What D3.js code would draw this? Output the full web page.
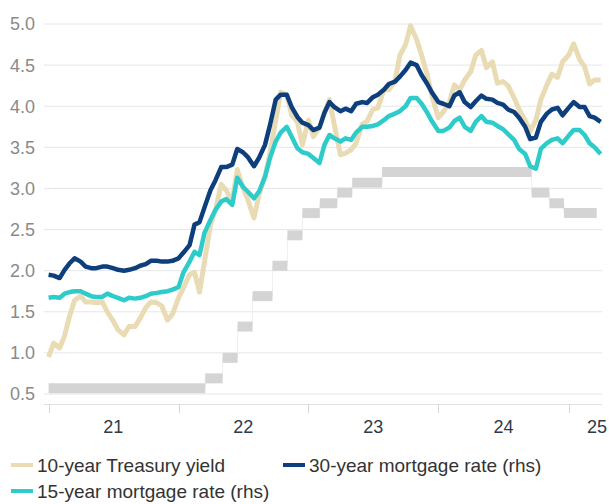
<!DOCTYPE html>
<html>
<head>
<meta charset="utf-8">
<script src="https://cdn.jsdelivr.net/npm/d3@7"></script>
<style>
  body { margin: 0; background: #fff; }
  svg { display: block; font-family: "Liberation Sans", Arial, sans-serif; }
</style>
</head>
<body>
<svg id="chart" width="609" height="504"></svg>
<script>
'use strict';

// semi-monthly observation dates
const dates = [
  "2021-01-01","2021-01-15","2021-02-01","2021-02-15","2021-03-01","2021-03-15","2021-04-01","2021-04-15","2021-05-01","2021-05-15","2021-06-01","2021-06-15",
  "2021-07-01","2021-07-15","2021-08-01","2021-08-15","2021-09-01","2021-09-15","2021-10-01","2021-10-15","2021-11-01","2021-11-15","2021-12-01","2021-12-15",
  "2022-01-01","2022-01-15","2022-02-01","2022-02-15","2022-03-01","2022-03-15","2022-04-01","2022-04-15","2022-05-01","2022-05-15","2022-06-01","2022-06-15",
  "2022-07-01","2022-07-15","2022-08-01","2022-08-15","2022-09-01","2022-09-15","2022-10-01","2022-10-15","2022-11-01","2022-11-15","2022-12-01","2022-12-15",
  "2023-01-01","2023-01-15","2023-02-01","2023-02-15","2023-03-01","2023-03-15","2023-04-01","2023-04-15","2023-05-01","2023-05-15","2023-06-01","2023-06-15",
  "2023-07-01","2023-07-15","2023-08-01","2023-08-15","2023-09-01","2023-09-15","2023-10-01","2023-10-15","2023-11-01","2023-11-15","2023-12-01","2023-12-15",
  "2024-01-01","2024-01-15","2024-02-01","2024-02-15","2024-03-01","2024-03-15","2024-04-01","2024-04-15","2024-05-01","2024-05-15","2024-06-01","2024-06-15",
  "2024-07-01","2024-07-15","2024-08-01","2024-08-15","2024-09-01","2024-09-15","2024-10-01","2024-10-15","2024-11-01","2024-11-15","2024-12-01","2024-12-15",
  "2025-01-01","2025-01-15","2025-02-01","2025-02-15","2025-03-01","2025-03-15","2025-04-01"
];

const treasury10y = [
  0.95, 1.12, 1.06, 1.21, 1.45, 1.64, 1.69, 1.62, 1.62, 1.61, 1.62, 1.50,
  1.39, 1.28, 1.22, 1.32, 1.32, 1.42, 1.55, 1.62, 1.61, 1.57, 1.40, 1.47,
  1.67, 1.79, 1.95, 1.98, 1.74, 2.11, 2.56, 2.74, 3.05, 2.98, 2.84, 3.23,
  3.01, 2.86, 2.64, 2.92, 3.15, 3.43, 3.83, 4.17, 4.14, 3.89, 3.81, 3.53,
  3.83, 3.63, 3.74, 3.92, 4.08, 3.77, 3.41, 3.43, 3.47, 3.55, 3.78, 3.82,
  3.96, 3.98, 4.20, 4.20, 4.30, 4.62, 4.75, 4.98, 4.81, 4.62, 4.38, 4.11,
  3.86, 3.93, 4.05, 4.26, 4.20, 4.32, 4.42, 4.62, 4.68, 4.47, 4.54, 4.28,
  4.30, 4.25, 4.10, 3.96, 3.83, 3.70, 3.83, 4.08, 4.26, 4.39, 4.35, 4.54,
  4.62, 4.76, 4.57, 4.48, 4.27, 4.32, 4.32
];

const mortgage30y = [
  1.95, 1.94, 1.91, 2.01, 2.09, 2.15, 2.11, 2.05, 2.03, 2.03, 2.05, 2.05,
  2.03, 2.01, 2.00, 2.01, 2.03, 2.06, 2.08, 2.12, 2.12, 2.11, 2.11, 2.12,
  2.15, 2.22, 2.31, 2.56, 2.59, 2.77, 2.98, 3.10, 3.26, 3.26, 3.29, 3.48,
  3.44, 3.38, 3.27, 3.37, 3.53, 3.77, 4.08, 4.14, 4.14, 3.99, 3.87, 3.80,
  3.77, 3.71, 3.74, 3.92, 4.05, 3.99, 3.94, 3.97, 3.94, 4.03, 4.05, 4.04,
  4.11, 4.14, 4.20, 4.27, 4.30, 4.36, 4.44, 4.53, 4.50, 4.38, 4.27, 4.16,
  4.05, 4.03, 4.00, 4.13, 4.17, 4.05, 3.99, 4.06, 4.13, 4.09, 4.08, 4.04,
  4.02, 3.96, 3.93, 3.86, 3.75, 3.60, 3.62, 3.81, 3.91, 3.96, 3.98, 3.89,
  3.98, 4.05, 3.99, 3.99, 3.88, 3.86, 3.81
];

const mortgage15y = [
  1.67, 1.68, 1.67, 1.72, 1.74, 1.75, 1.75, 1.72, 1.69, 1.68, 1.68, 1.72,
  1.69, 1.67, 1.64, 1.67, 1.66, 1.67, 1.69, 1.72, 1.73, 1.74, 1.75, 1.77,
  1.80, 1.98, 2.11, 2.23, 2.19, 2.46, 2.62, 2.74, 2.84, 2.87, 2.80, 3.13,
  3.02, 2.96, 2.88, 2.96, 3.14, 3.37, 3.57, 3.68, 3.75, 3.63, 3.49, 3.44,
  3.42, 3.37, 3.31, 3.53, 3.65, 3.61, 3.57, 3.61, 3.59, 3.68, 3.75, 3.75,
  3.76, 3.78, 3.83, 3.88, 3.91, 3.94, 4.00, 4.10, 4.10, 4.03, 3.92, 3.81,
  3.70, 3.70, 3.74, 3.82, 3.86, 3.75, 3.70, 3.81, 3.88, 3.81, 3.80, 3.76,
  3.72, 3.66, 3.59, 3.48, 3.42, 3.27, 3.24, 3.48, 3.55, 3.59, 3.61, 3.55,
  3.64, 3.71, 3.71, 3.65, 3.55, 3.50, 3.42
];

// grey step series (policy rate, chart scale)
const stepDates = ["2021-01-01","2022-03-17","2022-05-05","2022-06-16","2022-07-28","2022-09-22","2022-11-03","2022-12-15",
  "2023-02-02","2023-03-23","2023-05-04","2023-07-27","2024-09-19","2024-11-08","2024-12-19"];
const stepValues = [0.57, 0.69, 0.94, 1.32, 1.69, 2.06, 2.43, 2.70, 2.82, 2.95, 3.07, 3.20, 2.95, 2.82, 2.70];
const stepEnd = "2025-03-21";

const yTicks = [0.5, 1.0, 1.5, 2.0, 2.5, 3.0, 3.5, 4.0, 4.5, 5.0];
const yearTicks = ["2021-01-01","2022-01-01","2023-01-01","2024-01-01","2025-01-01"];
const yearLabels = ["21","22","23","24","25"];
const yearLabelDates = ["2021-07-02","2022-07-02","2023-07-02","2024-07-02","2025-03-22"];

const seriesNames = ["10-year Treasury yield", "30-year mortgage rate (rhs)", "15-year mortgage rate (rhs)"];
const seriesColors = ["#e9dcb4", "#0c3f7b", "#2ecbcb"];

const parse = d3.timeParse("%Y-%m-%d");
const svg = d3.select("#chart");

const x = d3.scaleTime()
  .domain([parse("2021-01-01"), parse("2025-01-01")])
  .range([48.6, 568.6]);
const y = d3.scaleLinear().domain([0.5, 5.0]).range([394, 24]);

// gridlines + y labels
svg.append("g").selectAll("line").data(yTicks).join("line")
  .attr("x1", 44).attr("x2", 602)
  .attr("y1", d => y(d)).attr("y2", d => y(d))
  .attr("stroke", "#e6e6e6").attr("stroke-width", 1);

svg.append("g").selectAll("text").data(yTicks).join("text")
  .attr("x", 35).attr("y", d => y(d))
  .attr("dy", "0.36em")
  .attr("text-anchor", "end")
  .attr("font-size", 18)
  .attr("fill", "#8a8a8a")
  .text(d => d.toFixed(1));

// x axis
const xAxis = svg.append("g");
xAxis.append("line")
  .attr("x1", 44).attr("x2", 602).attr("y1", 404.5).attr("y2", 404.5)
  .attr("stroke", "#e0e0e0");
xAxis.selectAll(".tick").data(yearTicks).join("line")
  .attr("x1", d => Math.round(x(parse(d))) + 0.5).attr("x2", d => Math.round(x(parse(d))) + 0.5)
  .attr("y1", 404).attr("y2", 413)
  .attr("stroke", "#d6d6d6");
xAxis.selectAll("text").data(yearLabels).join("text")
  .attr("x", (d, i) => x(parse(yearLabelDates[i])))
  .attr("y", 427)
  .attr("dy", "0.36em")
  .attr("text-anchor", "middle")
  .attr("font-size", 18)
  .attr("fill", "#2f3a48")
  .text(d => d);

// step series
const steps = stepDates.map((d, i) => ({
  x0: parse(d),
  x1: parse(i + 1 < stepDates.length ? stepDates[i + 1] : stepEnd),
  v: stepValues[i],
  next: i + 1 < stepValues.length ? stepValues[i + 1] : null
}));
const stepG = svg.append("g");
stepG.selectAll(".conn").data(steps.filter(s => s.next !== null)).join("line")
  .attr("x1", s => x(s.x1)).attr("x2", s => x(s.x1))
  .attr("y1", s => y(s.v)).attr("y2", s => y(s.next))
  .attr("stroke", "#efefef").attr("stroke-width", 1);
stepG.selectAll(".bar").data(steps).join("line")
  .attr("x1", s => x(s.x0)).attr("x2", s => x(s.x1))
  .attr("y1", s => y(s.v)).attr("y2", s => y(s.v))
  .attr("stroke", "#d4d4d4").attr("stroke-width", 10);

// lines
const parsedDates = dates.map(parse);
const line = d3.line()
  .x((d, i) => x(parsedDates[i]))
  .y(d => y(d))
  .curve(d3.curveLinear);

[treasury10y, mortgage15y, mortgage30y].forEach((s, k) => {
  const color = [seriesColors[0], seriesColors[2], seriesColors[1]][k];
  svg.append("path")
    .datum(s)
    .attr("d", line)
    .attr("fill", "none")
    .attr("stroke", color)
    .attr("stroke-width", k === 0 ? 5 : 4.5)
    .attr("stroke-linejoin", "round");
});

// legend
const legendPos = [[11, 465], [283, 465], [11, 491]];
const legend = svg.append("g");
seriesNames.forEach((name, i) => {
  const [lx, ly] = legendPos[i];
  legend.append("line")
    .attr("x1", lx).attr("x2", lx + 22)
    .attr("y1", ly).attr("y2", ly)
    .attr("stroke", seriesColors[i]).attr("stroke-width", 4);
  legend.append("text")
    .attr("x", lx + 26).attr("y", ly)
    .attr("dy", "0.36em")
    .attr("font-size", 19)
    .attr("fill", "#333")
    .text(name);
});
</script>
</body>
</html>
